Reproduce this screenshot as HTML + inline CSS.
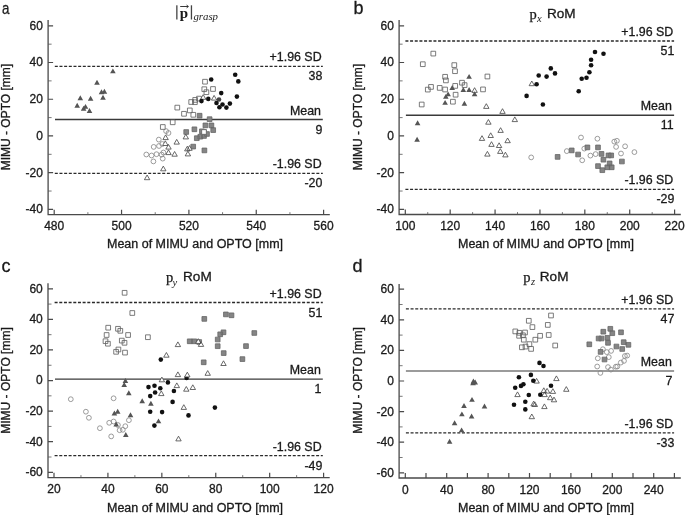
<!DOCTYPE html>
<html><head><meta charset="utf-8"><style>
html,body{margin:0;padding:0;background:#fff;}
svg{display:block;will-change:transform;font-family:"Liberation Sans",sans-serif;fill:#1a1a1a;}
text{stroke:#1a1a1a;stroke-width:0.3px;}
</style></head><body>
<svg width="685" height="515" viewBox="0 0 685 515">
<rect width="685" height="515" fill="#fff"/>
<path d="M48.1,20V214.6H329.8" fill="none" stroke="#4a4a4a" stroke-width="1.3"/>
<path d="M48.1,25.80h5.0M48.1,62.52h5.0M48.1,99.24h5.0M48.1,135.96h5.0M48.1,172.68h5.0M48.1,209.40h5.0M54.20,214.6v-4.9M121.55,214.6v-4.9M188.90,214.6v-4.9M256.25,214.6v-4.9M323.60,214.6v-4.9" stroke="#4a4a4a" stroke-width="1.2" fill="none"/>
<path d="M48.1,44.16h3.5M48.1,80.88h3.5M48.1,117.60h3.5M48.1,154.32h3.5M48.1,191.04h3.5M87.88,214.6v-2.4M155.23,214.6v-2.4M222.57,214.6v-2.4M289.93,214.6v-2.4" stroke="#555" stroke-width="0.8" fill="none"/>
<text x="42.90" y="29.70" text-anchor="end" font-size="12" >60</text>
<text x="42.90" y="66.42" text-anchor="end" font-size="12" >40</text>
<text x="42.90" y="103.14" text-anchor="end" font-size="12" >20</text>
<text x="42.90" y="139.86" text-anchor="end" font-size="12" >0</text>
<text x="42.90" y="176.58" text-anchor="end" font-size="12" >-20</text>
<text x="42.90" y="213.30" text-anchor="end" font-size="12" >-40</text>
<text x="54.20" y="230.10" text-anchor="middle" font-size="12" >480</text>
<text x="121.55" y="230.10" text-anchor="middle" font-size="12" >500</text>
<text x="188.90" y="230.10" text-anchor="middle" font-size="12" >520</text>
<text x="256.25" y="230.10" text-anchor="middle" font-size="12" >540</text>
<text x="323.60" y="230.10" text-anchor="middle" font-size="12" >560</text>
<path d="M399.1,20V214.5H680.8" fill="none" stroke="#4a4a4a" stroke-width="1.3"/>
<path d="M399.1,25.80h5.0M399.1,62.52h5.0M399.1,99.24h5.0M399.1,135.96h5.0M399.1,172.68h5.0M399.1,209.40h5.0M405.30,214.5v-4.9M450.18,214.5v-4.9M495.07,214.5v-4.9M539.95,214.5v-4.9M584.83,214.5v-4.9M629.72,214.5v-4.9M674.60,214.5v-4.9" stroke="#4a4a4a" stroke-width="1.2" fill="none"/>
<path d="M399.1,44.16h3.5M399.1,80.88h3.5M399.1,117.60h3.5M399.1,154.32h3.5M399.1,191.04h3.5M427.74,214.5v-2.4M472.62,214.5v-2.4M517.51,214.5v-2.4M562.39,214.5v-2.4M607.27,214.5v-2.4M652.16,214.5v-2.4" stroke="#555" stroke-width="0.8" fill="none"/>
<text x="393.90" y="29.70" text-anchor="end" font-size="12" >60</text>
<text x="393.90" y="66.42" text-anchor="end" font-size="12" >40</text>
<text x="393.90" y="103.14" text-anchor="end" font-size="12" >20</text>
<text x="393.90" y="139.86" text-anchor="end" font-size="12" >0</text>
<text x="393.90" y="176.58" text-anchor="end" font-size="12" >-20</text>
<text x="393.90" y="213.30" text-anchor="end" font-size="12" >-40</text>
<text x="405.30" y="230.00" text-anchor="middle" font-size="12" >100</text>
<text x="450.18" y="230.00" text-anchor="middle" font-size="12" >120</text>
<text x="495.07" y="230.00" text-anchor="middle" font-size="12" >140</text>
<text x="539.95" y="230.00" text-anchor="middle" font-size="12" >160</text>
<text x="584.83" y="230.00" text-anchor="middle" font-size="12" >180</text>
<text x="629.72" y="230.00" text-anchor="middle" font-size="12" >200</text>
<text x="674.60" y="230.00" text-anchor="middle" font-size="12" >220</text>
<path d="M48.0,283.3V477.55H329.7" fill="none" stroke="#4a4a4a" stroke-width="1.3"/>
<path d="M48.0,288.80h5.0M48.0,319.38h5.0M48.0,349.97h5.0M48.0,380.55h5.0M48.0,411.13h5.0M48.0,441.72h5.0M48.0,472.30h5.0M54.00,477.55v-4.9M107.92,477.55v-4.9M161.84,477.55v-4.9M215.76,477.55v-4.9M269.68,477.55v-4.9M323.60,477.55v-4.9" stroke="#4a4a4a" stroke-width="1.2" fill="none"/>
<path d="M48.0,304.09h3.5M48.0,334.68h3.5M48.0,365.26h3.5M48.0,395.84h3.5M48.0,426.43h3.5M48.0,457.01h3.5M80.96,477.55v-2.4M134.88,477.55v-2.4M188.80,477.55v-2.4M242.72,477.55v-2.4M296.64,477.55v-2.4" stroke="#555" stroke-width="0.8" fill="none"/>
<text x="42.80" y="292.70" text-anchor="end" font-size="12" >60</text>
<text x="42.80" y="323.28" text-anchor="end" font-size="12" >40</text>
<text x="42.80" y="353.87" text-anchor="end" font-size="12" >20</text>
<text x="42.80" y="384.45" text-anchor="end" font-size="12" >0</text>
<text x="42.80" y="415.03" text-anchor="end" font-size="12" >-20</text>
<text x="42.80" y="445.62" text-anchor="end" font-size="12" >-40</text>
<text x="42.80" y="476.20" text-anchor="end" font-size="12" >-60</text>
<text x="54.00" y="493.05" text-anchor="middle" font-size="12" >20</text>
<text x="107.92" y="493.05" text-anchor="middle" font-size="12" >40</text>
<text x="161.84" y="493.05" text-anchor="middle" font-size="12" >60</text>
<text x="215.76" y="493.05" text-anchor="middle" font-size="12" >80</text>
<text x="269.68" y="493.05" text-anchor="middle" font-size="12" >100</text>
<text x="323.60" y="493.05" text-anchor="middle" font-size="12" >120</text>
<path d="M399.1,284.1V478.0H680.8" fill="none" stroke="#4a4a4a" stroke-width="1.3"/>
<path d="M399.1,289.20h5.0M399.1,319.80h5.0M399.1,350.40h5.0M399.1,381.00h5.0M399.1,411.60h5.0M399.1,442.20h5.0M399.1,472.80h5.0M405.30,478.0v-4.9M446.70,478.0v-4.9M488.10,478.0v-4.9M529.50,478.0v-4.9M570.90,478.0v-4.9M612.30,478.0v-4.9M653.70,478.0v-4.9M426.00,478.0v-4.9M467.40,478.0v-4.9M508.80,478.0v-4.9M550.20,478.0v-4.9M591.60,478.0v-4.9M633.00,478.0v-4.9M674.40,478.0v-4.9" stroke="#4a4a4a" stroke-width="1.2" fill="none"/>
<path d="M399.1,304.50h3.5M399.1,335.10h3.5M399.1,365.70h3.5M399.1,396.30h3.5M399.1,426.90h3.5M399.1,457.50h3.5" stroke="#555" stroke-width="0.8" fill="none"/>
<text x="393.90" y="293.10" text-anchor="end" font-size="12" >60</text>
<text x="393.90" y="323.70" text-anchor="end" font-size="12" >40</text>
<text x="393.90" y="354.30" text-anchor="end" font-size="12" >20</text>
<text x="393.90" y="384.90" text-anchor="end" font-size="12" >0</text>
<text x="393.90" y="415.50" text-anchor="end" font-size="12" >-20</text>
<text x="393.90" y="446.10" text-anchor="end" font-size="12" >-40</text>
<text x="393.90" y="476.70" text-anchor="end" font-size="12" >-60</text>
<text x="405.30" y="493.50" text-anchor="middle" font-size="12" >0</text>
<text x="446.70" y="493.50" text-anchor="middle" font-size="12" >40</text>
<text x="488.10" y="493.50" text-anchor="middle" font-size="12" >80</text>
<text x="529.50" y="493.50" text-anchor="middle" font-size="12" >120</text>
<text x="570.90" y="493.50" text-anchor="middle" font-size="12" >160</text>
<text x="612.30" y="493.50" text-anchor="middle" font-size="12" >200</text>
<text x="653.70" y="493.50" text-anchor="middle" font-size="12" >240</text>
<line x1="54.8" y1="66.35" x2="322.8" y2="66.35" stroke="#2a2a2a" stroke-width="1.3" stroke-dasharray="3 1.67"/>
<line x1="55.0" y1="119.5" x2="322.8" y2="119.5" stroke="#3a3a3a" stroke-width="1.4"/>
<line x1="54.8" y1="173.4" x2="322.8" y2="173.4" stroke="#2a2a2a" stroke-width="1.3" stroke-dasharray="3 1.67"/>
<line x1="405.4" y1="41.0" x2="674.1" y2="41.0" stroke="#2a2a2a" stroke-width="1.3" stroke-dasharray="3 1.67"/>
<line x1="405.9" y1="115.2" x2="674.1" y2="115.2" stroke="#3a3a3a" stroke-width="1.4"/>
<line x1="405.4" y1="189.3" x2="674.1" y2="189.3" stroke="#2a2a2a" stroke-width="1.3" stroke-dasharray="3 1.67"/>
<line x1="54.6" y1="302.5" x2="322.8" y2="302.5" stroke="#2a2a2a" stroke-width="1.3" stroke-dasharray="3 1.67"/>
<line x1="55.0" y1="379.1" x2="322.8" y2="379.1" stroke="#3a3a3a" stroke-width="1.4"/>
<line x1="54.6" y1="455.7" x2="322.8" y2="455.7" stroke="#2a2a2a" stroke-width="1.3" stroke-dasharray="3 1.67"/>
<line x1="405.9" y1="308.9" x2="674.1" y2="308.9" stroke="#2a2a2a" stroke-width="1.3" stroke-dasharray="3 1.67"/>
<line x1="405.9" y1="371.0" x2="674.1" y2="371.0" stroke="#7a7a7a" stroke-width="1.4"/>
<line x1="405.9" y1="432.9" x2="674.1" y2="432.9" stroke="#2a2a2a" stroke-width="1.3" stroke-dasharray="3 1.67"/>
<text x="321.60" y="61.35" text-anchor="end" font-size="12.4" >+1.96 SD</text>
<text x="322.30" y="80.35" text-anchor="end" font-size="12.4" >38</text>
<text x="321.00" y="114.50" text-anchor="end" font-size="12.4" >Mean</text>
<text x="322.30" y="133.50" text-anchor="end" font-size="12.4" >9</text>
<text x="321.60" y="168.40" text-anchor="end" font-size="12.4" >-1.96 SD</text>
<text x="322.30" y="187.40" text-anchor="end" font-size="12.4" >-20</text>
<text x="673.30" y="36.00" text-anchor="end" font-size="12.4" >+1.96 SD</text>
<text x="674.30" y="55.00" text-anchor="end" font-size="12.4" >51</text>
<text x="671.80" y="110.20" text-anchor="end" font-size="12.4" >Mean</text>
<text x="673.70" y="129.20" text-anchor="end" font-size="12.4" >11</text>
<text x="673.30" y="184.30" text-anchor="end" font-size="12.4" >-1.96 SD</text>
<text x="674.30" y="203.30" text-anchor="end" font-size="12.4" >-29</text>
<text x="321.60" y="297.50" text-anchor="end" font-size="12.4" >+1.96 SD</text>
<text x="322.30" y="316.50" text-anchor="end" font-size="12.4" >51</text>
<text x="320.80" y="374.10" text-anchor="end" font-size="12.4" >Mean</text>
<text x="321.50" y="393.10" text-anchor="end" font-size="12.4" >1</text>
<text x="321.60" y="450.70" text-anchor="end" font-size="12.4" >-1.96 SD</text>
<text x="322.30" y="469.70" text-anchor="end" font-size="12.4" >-49</text>
<text x="673.30" y="303.90" text-anchor="end" font-size="12.4" >+1.96 SD</text>
<text x="674.30" y="322.90" text-anchor="end" font-size="12.4" >47</text>
<text x="671.80" y="366.00" text-anchor="end" font-size="12.4" >Mean</text>
<text x="672.30" y="385.00" text-anchor="end" font-size="12.4" >7</text>
<text x="673.30" y="427.90" text-anchor="end" font-size="12.4" >-1.96 SD</text>
<text x="674.30" y="446.90" text-anchor="end" font-size="12.4" >-33</text>
<text x="107.00" y="248.00" text-anchor="start" font-size="12" textLength="176" lengthAdjust="spacingAndGlyphs">Mean of MIMU and OPTO [mm]</text>
<text x="458.00" y="248.00" text-anchor="start" font-size="12" textLength="176" lengthAdjust="spacingAndGlyphs">Mean of MIMU and OPTO [mm]</text>
<text x="107.00" y="512.00" text-anchor="start" font-size="12" textLength="176" lengthAdjust="spacingAndGlyphs">Mean of MIMU and OPTO [mm]</text>
<text x="458.00" y="512.00" text-anchor="start" font-size="12" textLength="176" lengthAdjust="spacingAndGlyphs">Mean of MIMU and OPTO [mm]</text>
<text transform="translate(10.2,117.1) rotate(-90)" text-anchor="middle" font-size="12">MIMU - OPTO [mm]</text>
<text transform="translate(10.2,380.5) rotate(-90)" text-anchor="middle" font-size="12">MIMU - OPTO [mm]</text>
<text transform="translate(361.5,117.1) rotate(-90)" text-anchor="middle" font-size="12">MIMU - OPTO [mm]</text>
<text transform="translate(361.5,380.5) rotate(-90)" text-anchor="middle" font-size="12">MIMU - OPTO [mm]</text>
<text transform="translate(1.9,14.3) scale(0.81,1)" font-size="16.5">a</text>
<text x="353.50" y="14.30" text-anchor="start" font-size="18" >b</text>
<text x="1.50" y="271.50" text-anchor="start" font-size="18" >c</text>
<text x="352.60" y="271.50" text-anchor="start" font-size="18" >d</text>
<rect x="176.2" y="5.3" width="1.3" height="14.2" fill="#444"/>
<rect x="190.8" y="5.3" width="1.3" height="14.2" fill="#444"/>
<text x="179.8" y="17.6" font-size="15" font-weight="bold" font-family="Liberation Serif,serif" style="stroke:none">p</text>
<path d="M180.2,6.5h8.0M186.6,5.1l1.8,1.4l-1.8,1.4" stroke="#222" stroke-width="0.9" fill="none"/>
<text x="193.4" y="20.0" font-size="10.8" font-style="italic" font-family="Liberation Serif,serif" style="stroke:none">grasp</text>
<text x="529.6" y="18.9" font-size="14.5" font-family="Liberation Serif,serif" style="stroke-width:0.25px">p</text><text x="536.9" y="22.0" font-size="10.5" font-style="italic" font-family="Liberation Serif,serif" style="stroke:none">x</text>
<text x="546.90" y="18.00" text-anchor="start" font-size="13.6" >RoM</text>
<text x="165.9" y="282.1" font-size="14.5" font-family="Liberation Serif,serif" style="stroke-width:0.25px">p</text><text x="172.6" y="285.8" font-size="10.5" font-style="italic" font-family="Liberation Serif,serif" style="stroke:none">y</text>
<text x="183.00" y="281.40" text-anchor="start" font-size="13.6" >RoM</text>
<text x="523.3" y="281.6" font-size="14.5" font-family="Liberation Serif,serif" style="stroke-width:0.25px">p</text><text x="530.9" y="285.2" font-size="10.5" font-style="italic" font-family="Liberation Serif,serif" style="stroke:none">z</text>
<text x="539.80" y="281.10" text-anchor="start" font-size="13.6" >RoM</text>
<g fill="none" stroke="#8a8a8a" stroke-width="0.85"><circle cx="166.1" cy="131.1" r="2.4"/><circle cx="168.5" cy="133.0" r="2.4"/><circle cx="158.8" cy="139.6" r="2.4"/><circle cx="153.7" cy="146.9" r="2.4"/><circle cx="159.0" cy="146.0" r="2.4"/><circle cx="162.3" cy="144.0" r="2.4"/><circle cx="146.3" cy="154.5" r="2.4"/><circle cx="151.6" cy="155.5" r="2.4"/><circle cx="156.5" cy="154.2" r="2.4"/><circle cx="161.6" cy="154.6" r="2.4"/><circle cx="163.4" cy="152.5" r="2.4"/><circle cx="162.7" cy="158.6" r="2.4"/><circle cx="153.4" cy="161.4" r="2.4"/><circle cx="581.0" cy="137.5" r="2.4"/><circle cx="597.4" cy="138.7" r="2.4"/><circle cx="614.3" cy="141.6" r="2.4"/><circle cx="616.9" cy="140.8" r="2.4"/><circle cx="616.1" cy="146.9" r="2.4"/><circle cx="625.1" cy="146.3" r="2.4"/><circle cx="634.4" cy="152.1" r="2.4"/><circle cx="621.0" cy="153.5" r="2.4"/><circle cx="566.8" cy="151.1" r="2.4"/><circle cx="584.3" cy="148.6" r="2.4"/><circle cx="590.4" cy="155.6" r="2.4"/><circle cx="595.6" cy="154.1" r="2.4"/><circle cx="582.2" cy="160.3" r="2.4"/><circle cx="531.2" cy="157.4" r="2.4"/><circle cx="70.8" cy="399.2" r="2.4"/><circle cx="85.9" cy="411.7" r="2.4"/><circle cx="88.9" cy="417.8" r="2.4"/><circle cx="99.9" cy="428.2" r="2.4"/><circle cx="113.6" cy="398.3" r="2.4"/><circle cx="109.2" cy="422.8" r="2.4"/><circle cx="113.6" cy="421.5" r="2.4"/><circle cx="117.9" cy="425.0" r="2.4"/><circle cx="128.9" cy="420.2" r="2.4"/><circle cx="125.3" cy="426.2" r="2.4"/><circle cx="122.8" cy="429.8" r="2.4"/><circle cx="119.6" cy="430.2" r="2.4"/><circle cx="111.2" cy="436.4" r="2.4"/><circle cx="602.9" cy="349.2" r="2.4"/><circle cx="606.8" cy="352.1" r="2.4"/><circle cx="611.1" cy="350.9" r="2.4"/><circle cx="597.8" cy="358.3" r="2.4"/><circle cx="608.8" cy="357.1" r="2.4"/><circle cx="624.9" cy="356.0" r="2.4"/><circle cx="627.2" cy="355.6" r="2.4"/><circle cx="624.0" cy="360.9" r="2.4"/><circle cx="620.8" cy="362.6" r="2.4"/><circle cx="597.2" cy="366.5" r="2.4"/><circle cx="608.0" cy="367.1" r="2.4"/><circle cx="610.9" cy="369.6" r="2.4"/><circle cx="615.8" cy="366.7" r="2.4"/><circle cx="617.3" cy="366.5" r="2.4"/><circle cx="600.4" cy="372.9" r="2.4"/></g>
<path fill="#fff" stroke="#636363" stroke-width="0.85" d="M202.65,79.35h4.7v4.7h-4.7ZM210.65,86.65h4.7v4.7h-4.7ZM201.95,86.85h4.7v4.7h-4.7ZM204.05,89.85h4.7v4.7h-4.7ZM196.65,96.25h4.7v4.7h-4.7ZM192.85,97.55h4.7v4.7h-4.7ZM188.85,99.65h4.7v4.7h-4.7ZM192.55,99.85h4.7v4.7h-4.7ZM174.95,105.25h4.7v4.7h-4.7ZM187.45,108.05h4.7v4.7h-4.7ZM181.65,111.45h4.7v4.7h-4.7ZM190.95,112.45h4.7v4.7h-4.7ZM170.35,119.95h4.7v4.7h-4.7ZM160.45,124.65h4.7v4.7h-4.7ZM201.65,129.65h4.7v4.7h-4.7ZM430.95,51.25h4.7v4.7h-4.7ZM420.45,61.85h4.7v4.7h-4.7ZM451.95,62.75h4.7v4.7h-4.7ZM452.65,68.85h4.7v4.7h-4.7ZM442.75,74.45h4.7v4.7h-4.7ZM443.55,78.05h4.7v4.7h-4.7ZM459.65,80.35h4.7v4.7h-4.7ZM462.25,82.75h4.7v4.7h-4.7ZM428.65,84.55h4.7v4.7h-4.7ZM425.45,87.25h4.7v4.7h-4.7ZM437.35,85.55h4.7v4.7h-4.7ZM442.75,87.15h4.7v4.7h-4.7ZM452.85,83.55h4.7v4.7h-4.7ZM453.25,92.35h4.7v4.7h-4.7ZM450.55,99.35h4.7v4.7h-4.7ZM419.35,102.15h4.7v4.7h-4.7ZM485.05,74.15h4.7v4.7h-4.7ZM480.65,87.05h4.7v4.7h-4.7ZM122.25,290.45h4.7v4.7h-4.7ZM129.95,310.65h4.7v4.7h-4.7ZM105.85,325.35h4.7v4.7h-4.7ZM115.65,326.45h4.7v4.7h-4.7ZM117.95,328.45h4.7v4.7h-4.7ZM104.25,332.65h4.7v4.7h-4.7ZM125.75,332.65h4.7v4.7h-4.7ZM145.55,334.85h4.7v4.7h-4.7ZM103.15,338.85h4.7v4.7h-4.7ZM105.55,341.35h4.7v4.7h-4.7ZM119.45,338.25h4.7v4.7h-4.7ZM122.15,340.45h4.7v4.7h-4.7ZM113.75,349.45h4.7v4.7h-4.7ZM116.05,347.15h4.7v4.7h-4.7ZM122.65,350.25h4.7v4.7h-4.7ZM548.65,313.15h4.7v4.7h-4.7ZM526.45,318.45h4.7v4.7h-4.7ZM530.05,324.75h4.7v4.7h-4.7ZM545.45,322.55h4.7v4.7h-4.7ZM512.95,329.05h4.7v4.7h-4.7ZM517.05,330.45h4.7v4.7h-4.7ZM522.65,330.15h4.7v4.7h-4.7ZM516.75,333.45h4.7v4.7h-4.7ZM520.55,332.95h4.7v4.7h-4.7ZM521.45,337.35h4.7v4.7h-4.7ZM537.75,333.45h4.7v4.7h-4.7ZM546.35,332.65h4.7v4.7h-4.7ZM532.95,337.35h4.7v4.7h-4.7ZM527.05,341.75h4.7v4.7h-4.7ZM523.15,344.25h4.7v4.7h-4.7ZM519.55,344.95h4.7v4.7h-4.7ZM528.75,346.55h4.7v4.7h-4.7ZM552.85,343.15h4.7v4.7h-4.7Z"/>
<path fill="#858585" stroke="#666" stroke-width="0.8" d="M197.25,113.35h4.7v4.7h-4.7ZM207.25,116.85h4.7v4.7h-4.7ZM203.05,123.05h4.7v4.7h-4.7ZM209.05,123.05h4.7v4.7h-4.7ZM192.05,126.95h4.7v4.7h-4.7ZM210.85,127.75h4.7v4.7h-4.7ZM183.85,129.65h4.7v4.7h-4.7ZM199.55,128.95h4.7v4.7h-4.7ZM204.65,131.65h4.7v4.7h-4.7ZM201.65,133.65h4.7v4.7h-4.7ZM197.95,134.35h4.7v4.7h-4.7ZM194.45,135.85h4.7v4.7h-4.7ZM190.85,144.25h4.7v4.7h-4.7ZM202.05,148.05h4.7v4.7h-4.7ZM569.35,148.05h4.7v4.7h-4.7ZM575.75,152.15h4.7v4.7h-4.7ZM585.05,145.05h4.7v4.7h-4.7ZM595.65,145.05h4.7v4.7h-4.7ZM599.15,151.55h4.7v4.7h-4.7ZM606.15,153.05h4.7v4.7h-4.7ZM608.85,153.05h4.7v4.7h-4.7ZM601.05,157.35h4.7v4.7h-4.7ZM607.25,161.05h4.7v4.7h-4.7ZM595.65,163.75h4.7v4.7h-4.7ZM599.95,167.85h4.7v4.7h-4.7ZM604.95,164.95h4.7v4.7h-4.7ZM609.35,164.95h4.7v4.7h-4.7ZM619.55,159.15h4.7v4.7h-4.7ZM555.25,154.55h4.7v4.7h-4.7ZM201.95,316.55h4.7v4.7h-4.7ZM223.55,312.05h4.7v4.7h-4.7ZM229.15,312.95h4.7v4.7h-4.7ZM221.15,329.95h4.7v4.7h-4.7ZM217.85,331.95h4.7v4.7h-4.7ZM215.35,337.15h4.7v4.7h-4.7ZM215.35,343.85h4.7v4.7h-4.7ZM251.95,330.65h4.7v4.7h-4.7ZM187.35,338.95h4.7v4.7h-4.7ZM191.95,338.95h4.7v4.7h-4.7ZM196.85,339.65h4.7v4.7h-4.7ZM243.65,343.75h4.7v4.7h-4.7ZM221.35,350.75h4.7v4.7h-4.7ZM240.05,356.75h4.7v4.7h-4.7ZM201.35,359.95h4.7v4.7h-4.7ZM607.95,326.45h4.7v4.7h-4.7ZM600.95,329.35h4.7v4.7h-4.7ZM609.95,330.85h4.7v4.7h-4.7ZM618.65,329.95h4.7v4.7h-4.7ZM596.25,336.15h4.7v4.7h-4.7ZM599.15,336.15h4.7v4.7h-4.7ZM605.05,335.45h4.7v4.7h-4.7ZM605.65,340.45h4.7v4.7h-4.7ZM586.95,341.95h4.7v4.7h-4.7ZM621.35,339.85h4.7v4.7h-4.7ZM626.05,342.45h4.7v4.7h-4.7ZM614.05,344.15h4.7v4.7h-4.7ZM619.85,346.65h4.7v4.7h-4.7ZM598.25,349.55h4.7v4.7h-4.7ZM602.15,357.15h4.7v4.7h-4.7Z"/>
<circle cx="186.6" cy="378.0" r="2.3" fill="#111"/>
<path fill="#fff" stroke="#444" stroke-width="0.8" d="M200.50,99.30L203.20,94.60L205.90,99.30ZM211.40,100.10L214.10,95.40L216.80,100.10ZM162.90,139.60L165.60,134.90L168.30,139.60ZM162.60,145.50L165.30,140.80L168.00,145.50ZM165.80,149.10L168.50,144.40L171.20,149.10ZM165.80,154.60L168.50,149.90L171.20,154.60ZM174.00,144.10L176.70,139.40L179.40,144.10ZM171.90,156.20L174.60,151.50L177.30,156.20ZM183.10,138.90L185.80,134.20L188.50,138.90ZM184.60,150.90L187.30,146.20L190.00,150.90ZM186.80,150.30L189.50,145.60L192.20,150.30ZM185.20,155.90L187.90,151.20L190.60,155.90ZM160.60,170.80L163.30,166.10L166.00,170.80ZM144.40,179.70L147.10,175.00L149.80,179.70ZM471.90,92.40L474.60,87.70L477.30,92.40ZM529.10,85.70L531.80,81.00L534.50,85.70ZM483.60,108.40L486.30,103.70L489.00,108.40ZM499.80,113.40L502.50,108.70L505.20,113.40ZM485.70,124.20L488.40,119.50L491.10,124.20ZM512.10,121.60L514.80,116.90L517.50,121.60ZM497.90,132.40L500.60,127.70L503.30,132.40ZM488.00,137.50L490.70,132.80L493.40,137.50ZM479.30,140.40L482.00,135.70L484.70,140.40ZM504.90,142.70L507.60,138.00L510.30,142.70ZM488.80,146.40L491.50,141.70L494.20,146.40ZM496.40,147.50L499.10,142.80L501.80,147.50ZM484.70,156.10L487.40,151.40L490.10,156.10ZM497.60,153.40L500.30,148.70L503.00,153.40ZM502.70,156.90L505.40,152.20L508.10,156.90ZM175.20,346.60L177.90,341.90L180.60,346.60ZM195.60,343.40L198.30,338.70L201.00,343.40ZM198.30,346.40L201.00,341.70L203.70,346.40ZM163.70,357.20L166.40,352.50L169.10,357.20ZM220.80,365.50L223.50,360.80L226.20,365.50ZM175.20,376.60L177.90,371.90L180.60,376.60ZM184.60,376.90L187.30,372.20L190.00,376.90ZM205.00,375.30L207.70,370.60L210.40,375.30ZM159.20,381.80L161.90,377.10L164.60,381.80ZM158.60,395.60L161.30,390.90L164.00,395.60ZM174.10,387.60L176.80,382.90L179.50,387.60ZM183.60,391.20L186.30,386.50L189.00,391.20ZM190.10,389.50L192.80,384.80L195.50,389.50ZM181.10,409.40L183.80,404.70L186.50,409.40ZM175.80,440.90L178.50,436.20L181.20,440.90ZM533.90,383.10L536.60,378.40L539.30,383.10ZM553.70,380.60L556.40,375.90L559.10,380.60ZM563.60,391.30L566.30,386.60L569.00,391.30ZM514.80,396.60L517.50,391.90L520.20,396.60ZM541.10,392.50L543.80,387.80L546.50,392.50ZM544.40,393.10L547.10,388.40L549.80,393.10ZM550.20,393.40L552.90,388.70L555.60,393.40ZM541.90,396.60L544.60,391.90L547.30,396.60ZM547.50,399.70L550.20,395.00L552.90,399.70ZM551.30,401.80L554.00,397.10L556.70,401.80ZM530.90,405.90L533.60,401.20L536.30,405.90ZM532.10,406.50L534.80,401.80L537.50,406.50ZM541.70,408.60L544.40,403.90L547.10,408.60ZM529.10,418.70L531.80,414.00L534.50,418.70Z"/>
<path fill="#555" d="M110.10,73.35L112.90,68.40L115.70,73.35ZM94.20,84.65L97.00,79.70L99.80,84.65ZM98.70,94.25L101.50,89.30L104.30,94.25ZM101.60,93.75L104.40,88.80L107.20,93.75ZM100.20,99.75L103.00,94.80L105.80,99.75ZM77.50,100.15L80.30,95.20L83.10,100.15ZM87.80,100.65L90.60,95.70L93.40,100.65ZM74.40,107.65L77.20,102.70L80.00,107.65ZM82.70,108.85L85.50,103.90L88.30,108.85ZM80.80,110.65L83.60,105.70L86.40,110.65ZM86.70,112.95L89.50,108.00L92.30,112.95ZM466.30,78.85L469.10,73.90L471.90,78.85ZM449.40,89.95L452.20,85.00L455.00,89.95ZM460.50,91.95L463.30,87.00L466.10,91.95ZM466.30,91.95L469.10,87.00L471.90,91.95ZM471.80,96.25L474.60,91.30L477.40,96.25ZM445.30,96.35L448.10,91.40L450.90,96.35ZM443.00,98.85L445.80,93.90L448.60,98.85ZM442.30,104.85L445.10,99.90L447.90,104.85ZM461.60,105.75L464.40,100.80L467.20,105.75ZM414.80,125.15L417.60,120.20L420.40,125.15ZM414.30,141.75L417.10,136.80L419.90,141.75ZM122.60,383.05L125.40,378.10L128.20,383.05ZM121.40,387.05L124.20,382.10L127.00,387.05ZM126.00,395.25L128.80,390.30L131.60,395.25ZM139.40,403.15L142.20,398.20L145.00,403.15ZM148.10,405.75L150.90,400.80L153.70,405.75ZM111.60,415.45L114.40,410.50L117.20,415.45ZM114.90,413.65L117.70,408.70L120.50,413.65ZM127.70,417.15L130.50,412.20L133.30,417.15ZM113.40,426.55L116.20,421.60L119.00,426.55ZM123.00,436.95L125.80,432.00L128.60,436.95ZM155.70,423.35L158.50,418.40L161.30,423.35ZM470.60,383.55L473.40,378.60L476.20,383.55ZM472.40,384.45L475.20,379.50L478.00,384.45ZM470.20,385.25L473.00,380.30L475.80,385.25ZM469.20,401.85L472.00,396.90L474.80,401.85ZM461.20,408.05L464.00,403.10L466.80,408.05ZM481.70,408.55L484.50,403.60L487.30,408.55ZM459.10,416.35L461.90,411.40L464.70,416.35ZM468.80,418.45L471.60,413.50L474.40,418.45ZM451.80,425.25L454.60,420.30L457.40,425.25ZM458.80,432.35L461.60,427.40L464.40,432.35ZM446.80,443.65L449.60,438.70L452.40,443.65Z"/>
<path fill="#fff" stroke="#666" stroke-width="0.9" d="M201.65,129.65h4.7v4.7h-4.7Z"/>
<circle cx="219.0" cy="99.5" r="2.3" fill="#444"/>
<g fill="#111"><circle cx="211.2" cy="79.5" r="2.3"/><circle cx="235.2" cy="74.8" r="2.3"/><circle cx="238.3" cy="81.4" r="2.3"/><circle cx="221.2" cy="93.1" r="2.3"/><circle cx="236.9" cy="96.6" r="2.3"/><circle cx="208.3" cy="98.9" r="2.3"/><circle cx="201.5" cy="101.1" r="2.3"/><circle cx="216.5" cy="103.0" r="2.3"/><circle cx="222.5" cy="104.5" r="2.3"/><circle cx="229.9" cy="103.6" r="2.3"/><circle cx="219.4" cy="107.2" r="2.3"/><circle cx="226.4" cy="107.6" r="2.3"/><circle cx="538.7" cy="75.5" r="2.3"/><circle cx="546.6" cy="76.6" r="2.3"/><circle cx="550.8" cy="68.4" r="2.3"/><circle cx="555.0" cy="73.4" r="2.3"/><circle cx="536.6" cy="84.3" r="2.3"/><circle cx="526.6" cy="95.9" r="2.3"/><circle cx="542.9" cy="104.5" r="2.3"/><circle cx="578.7" cy="91.3" r="2.3"/><circle cx="581.7" cy="78.8" r="2.3"/><circle cx="586.5" cy="77.7" r="2.3"/><circle cx="589.4" cy="72.2" r="2.3"/><circle cx="591.1" cy="65.3" r="2.3"/><circle cx="591.1" cy="59.7" r="2.3"/><circle cx="595.0" cy="52.0" r="2.3"/><circle cx="603.5" cy="53.8" r="2.3"/><circle cx="160.8" cy="359.6" r="2.3"/><circle cx="148.5" cy="387.1" r="2.3"/><circle cx="154.5" cy="385.8" r="2.3"/><circle cx="160.3" cy="388.3" r="2.3"/><circle cx="167.9" cy="382.4" r="2.3"/><circle cx="155.1" cy="392.5" r="2.3"/><circle cx="150.2" cy="396.1" r="2.3"/><circle cx="173.9" cy="391.0" r="2.3"/><circle cx="172.6" cy="401.9" r="2.3"/><circle cx="150.2" cy="411.7" r="2.3"/><circle cx="162.1" cy="412.1" r="2.3"/><circle cx="188.5" cy="415.4" r="2.3"/><circle cx="214.9" cy="407.6" r="2.3"/><circle cx="154.4" cy="425.6" r="2.3"/><circle cx="539.5" cy="362.9" r="2.3"/><circle cx="543.5" cy="366.0" r="2.3"/><circle cx="518.9" cy="377.2" r="2.3"/><circle cx="530.9" cy="374.9" r="2.3"/><circle cx="533.3" cy="380.8" r="2.3"/><circle cx="523.4" cy="384.3" r="2.3"/><circle cx="521.0" cy="385.9" r="2.3"/><circle cx="515.2" cy="387.8" r="2.3"/><circle cx="551.0" cy="385.7" r="2.3"/><circle cx="528.8" cy="395.0" r="2.3"/><circle cx="540.3" cy="394.8" r="2.3"/><circle cx="525.3" cy="401.7" r="2.3"/><circle cx="514.0" cy="404.7" r="2.3"/><circle cx="525.3" cy="409.4" r="2.3"/></g>
</svg></body></html>
